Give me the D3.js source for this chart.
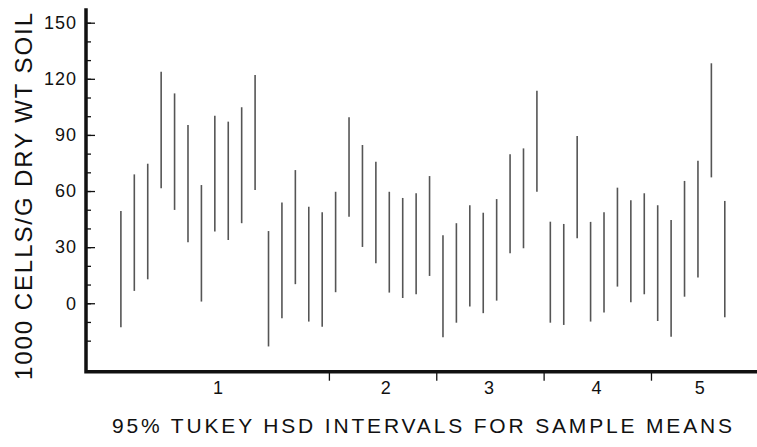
<!DOCTYPE html>
<html>
<head>
<meta charset="utf-8">
<script src="https://cdn.jsdelivr.net/npm/d3@7"></script>
<style>
  html, body { margin: 0; padding: 0; background: #fff; }
  svg { display: block; }
  text { font-family: "Liberation Sans", Arial, Helvetica, sans-serif; fill: #111; }
</style>
</head>
<body>
<svg id="chart" width="757" height="447"></svg>
<script>
// Treatment groups along the x axis and how many samples each holds
const groupLabels = ["1", "2", "3", "4", "5"];
const groupSizes = [16, 8, 8, 8, 6];

// Upper and lower ends of each 95% Tukey HSD interval (1000 cells / g dry wt soil)
const upper = [
  49.3, 68.9, 74.6, 123.8, 112.2, 95.3, 63.2, 100.3, 97.1, 104.8, 122.0, 38.6, 53.8, 71.2, 51.6, 48.6,
  59.6, 99.4, 84.6, 75.7, 59.6, 56.3, 58.8, 68.0,
  36.3, 42.8, 52.4, 48.4, 55.7, 79.6, 82.8, 113.6,
  43.6, 42.4, 89.4, 43.5, 48.6, 61.8, 55.1, 58.8,
  52.4, 44.5, 65.4, 76.2, 128.3, 54.7
];
const lower = [
  -12.8, 6.6, 12.8, 61.5, 49.9, 32.6, 0.9, 38.3, 33.8, 42.8, 60.6, -23.1, -8.0, 10.2, -9.8, -12.5,
  5.9, 46.3, 30.1, 21.4, 5.7, 2.8, 4.8, 14.6,
  -18.2, -10.4, -1.8, -5.3, 1.4, 26.7, 29.4, 59.6,
  -10.4, -11.6, 34.7, -9.8, -4.9, 8.9, 0.5, 4.8,
  -9.5, -17.9, 3.5, 13.7, 67.3, -7.5
];

// Axis ticks
const yLabelTicks = [0, 30, 60, 90, 120, 150];
const yMinorTicks = d3.range(-20, 151, 10);
// Where each group label sits, in sample-index units
const groupLabelAt = [7.2, 19.7, 27.4, 35.4, 43.1];

const svg = d3.select("#chart");

const x = d3.scaleLinear().domain([-2.6, 47.4]).range([86, 757]);
const y = d3.scaleLinear().domain([-36.6, 157.7]).range([371.7, 8.3]);

// Group boundaries fall halfway between neighbouring samples
const bounds = [];
let acc = 0;
groupSizes.slice(0, -1).forEach(n => { acc += n; bounds.push(acc - 0.5); });

const intervals = upper.map((u, i) => ({ i, u, l: lower[i] }));

// Interval bars
svg.append("g")
  .selectAll("line")
  .data(intervals)
  .join("line")
  .attr("x1", d => x(d.i))
  .attr("x2", d => x(d.i))
  .attr("y1", d => y(d.u))
  .attr("y2", d => y(d.l))
  .attr("stroke", "#555")
  .attr("stroke-width", 1.6);

// Y axis: minor ticks every 10, labelled ticks every 30
const axisX = x.range()[0];
const yMinor = svg.append("g")
  .attr("transform", `translate(${axisX},0)`)
  .call(d3.axisLeft(y).tickValues(yMinorTicks).tickSize(-5).tickFormat(""));
const yMajor = svg.append("g")
  .attr("transform", `translate(${axisX},0)`)
  .call(d3.axisLeft(y).tickValues(yLabelTicks).tickSize(-9).tickPadding(9).tickFormat(d3.format("d")));
[yMinor, yMajor].forEach(g => {
  g.select(".domain").remove();
  g.selectAll(".tick line").attr("stroke", "#111").attr("stroke-width", 1.3);
});
yMajor.selectAll(".tick text")
  .attr("font-size", 18)
  .attr("letter-spacing", 1)
  .attr("font-family", "Liberation Sans, Arial, sans-serif")
  .attr("fill", "#111");

// X axis: ticks at group boundaries, group names between them
const xBound = svg.append("g")
  .attr("transform", `translate(0,${y.range()[0]})`)
  .call(d3.axisBottom(x).tickValues(bounds).tickSize(9).tickFormat(""));
xBound.select(".domain").remove();
xBound.selectAll(".tick line").attr("stroke", "#111").attr("stroke-width", 1.3);

const xLab = svg.append("g")
  .attr("transform", `translate(0,${y.range()[0]})`)
  .call(d3.axisBottom(x).tickValues(groupLabelAt).tickSize(0).tickPadding(10)
    .tickFormat((d, k) => groupLabels[k]));
xLab.select(".domain").remove();
xLab.selectAll(".tick text")
  .attr("font-size", 18)
  .attr("font-family", "Liberation Sans, Arial, sans-serif")
  .attr("fill", "#111");

// Heavy L-shaped frame
svg.append("path")
  .attr("d", `M${axisX},${y.range()[1]} V${y.range()[0]} H${x.range()[1]}`)
  .attr("fill", "none")
  .attr("stroke", "#111")
  .attr("stroke-width", 3.5);

// Axis titles
svg.append("text")
  .attr("x", 422)
  .attr("y", 433)
  .attr("text-anchor", "middle")
  .attr("font-size", 21)
  .attr("textLength", 620)
  .attr("lengthAdjust", "spacing")
  .text("95% TUKEY HSD INTERVALS FOR SAMPLE MEANS");

svg.append("text")
  .attr("transform", "translate(32,196.5) rotate(-90)")
  .attr("text-anchor", "middle")
  .attr("font-size", 24)
  .attr("textLength", 367)
  .attr("lengthAdjust", "spacing")
  .text("1000 CELLS/G DRY WT SOIL");
</script>
</body>
</html>
